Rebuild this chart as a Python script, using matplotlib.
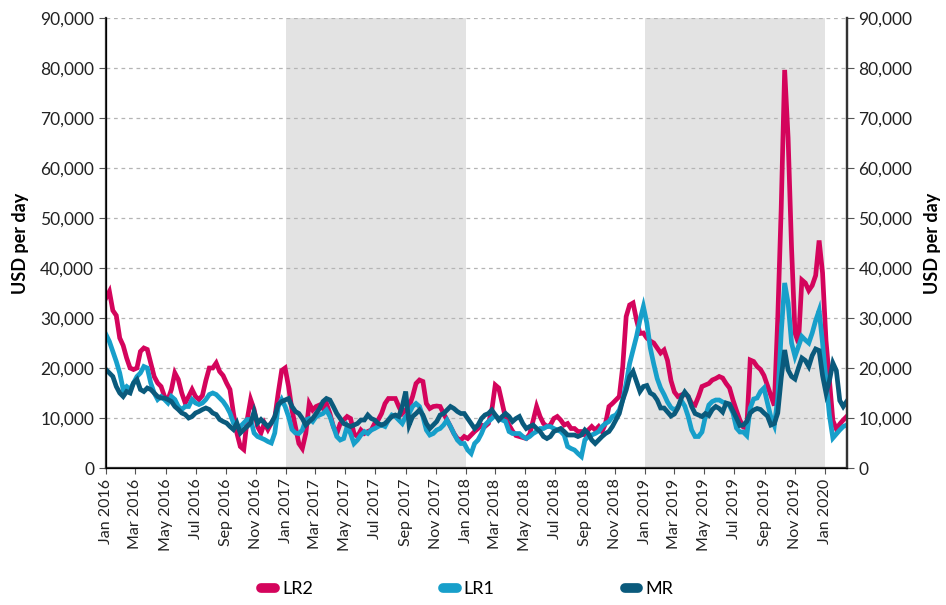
import matplotlib
matplotlib.use("Agg")
import matplotlib.pyplot as plt
import matplotlib.dates as mdates
from matplotlib.lines import Line2D
from matplotlib.ticker import FuncFormatter
import pandas as pd
import numpy as np

plt.rcParams['font.family'] = ['Lato', 'DejaVu Sans']

# weekly rates, thousand USD per day (blocks: 2016, 2017, 2018, 2019, early 2020)
lr2 = [
    34.0, 35.3, 31.5, 30.5, 26.0, 24.5, 22.0, 20.0, 19.7, 20.0,
    23.3, 24.0, 23.7, 21.0, 18.3, 17.0, 16.3, 14.3, 13.7, 15.7,
    19.0, 17.7, 15.0, 13.0, 14.3, 15.7, 14.3, 13.7, 14.5, 17.5,
    20.0, 20.0, 21.0, 19.3, 18.5, 17.0, 15.7, 11.0, 7.0, 4.3,
    3.7, 9.7, 13.7, 11.7, 8.3, 7.0, 9.0, 7.7, 9.0, 10.0,
    15.0, 19.5,
    20.0, 16.3, 11.6, 8.3, 4.9, 3.9, 6.9, 12.9, 11.6, 12.3,
    12.6, 11.9, 12.9, 10.9, 8.3, 6.9, 8.9, 9.6, 10.3, 9.9,
    6.9, 6.3, 7.6, 6.9, 7.3, 7.6, 8.9, 9.6, 10.9, 12.9,
    13.9, 13.9, 13.9, 12.3, 10.9, 11.6, 12.3, 14.3, 16.9, 17.6,
    17.3, 12.9, 11.9, 12.3, 12.4, 12.3, 10.9, 9.6, 8.3, 6.9,
    5.9, 5.6,
    6.3, 5.9, 6.6, 7.3, 7.9, 8.6, 8.3, 8.9, 11.6, 16.6,
    16.0, 13.0, 9.9, 8.6, 7.4, 6.5, 6.3, 6.1, 5.9, 6.8,
    9.5, 12.3, 10.3, 8.9, 8.3, 8.6, 9.9, 10.3, 9.6, 8.6,
    8.9, 7.9, 7.9, 7.3, 7.3, 6.6, 7.6, 8.3, 7.6, 8.3,
    7.3, 8.9, 12.3, 12.9, 13.6, 14.3, 20.3, 30.3, 32.6, 33.0,
    29.6, 26.9,
    27.0, 26.0, 25.4, 25.0, 24.0, 23.0, 23.6, 21.5, 17.5, 15.2,
    14.3, 14.6, 14.9, 14.3, 12.9, 12.6, 14.3, 16.3, 16.6, 16.9,
    17.6, 17.9, 18.3, 18.0, 16.9, 16.0, 13.6, 11.5, 9.6, 8.2,
    8.0, 21.6, 21.3, 20.3, 19.7, 18.5, 16.5, 14.5, 12.5, 30.0,
    52.0, 79.6, 66.0, 44.0, 27.0, 25.0, 37.6, 37.0, 35.5, 36.5,
    38.5, 45.5,
    39.0, 25.5, 17.5, 9.5, 7.8, 8.8, 9.6, 10.3,
]

lr1 = [
    26.7, 25.3, 23.3, 21.3, 19.0, 15.7, 16.3, 15.7, 17.0, 18.3,
    19.0, 20.3, 20.0, 17.0, 15.0, 13.7, 14.3, 13.7, 13.0, 14.3,
    13.7, 12.3, 11.7, 12.3, 12.3, 13.7, 13.0, 12.7, 13.0, 13.7,
    14.7, 15.0, 14.7, 14.0, 13.3, 12.3, 11.0, 9.0, 8.3, 8.3,
    9.0, 9.7, 9.7, 7.0, 6.3, 6.0, 5.7, 5.3, 5.0, 7.0,
    12.3, 13.7,
    12.3, 10.3, 7.7, 7.0, 6.9, 7.6, 9.6, 9.9, 9.3, 10.3,
    10.6, 10.9, 11.6, 10.3, 8.3, 6.3, 5.6, 5.9, 8.3, 6.9,
    4.9, 5.6, 6.6, 7.3, 6.9, 7.6, 7.9, 8.3, 8.6, 8.3,
    9.6, 10.6, 10.3, 9.6, 8.9, 10.3, 10.9, 12.3, 12.9, 12.3,
    10.3, 7.6, 6.6, 6.9, 7.6, 7.9, 8.6, 9.6, 8.3, 6.9,
    5.6, 4.9,
    4.9, 3.6, 2.9, 4.9, 5.6, 6.9, 8.6, 9.3, 9.9, 10.6,
    9.9, 9.6, 9.3, 7.3, 6.9, 6.9, 6.9, 6.3, 5.9, 6.3,
    6.9, 7.3, 7.9, 7.9, 8.3, 8.3, 7.9, 7.6, 7.3, 6.6,
    4.3, 3.9, 3.6, 2.9, 2.3, 5.6, 6.3, 6.6, 6.9, 7.3,
    8.3, 8.9, 9.3, 10.3, 10.6, 11.6, 13.6, 16.9, 20.9, 23.6,
    26.3, 29.6,
    32.3, 29.0, 24.0, 20.8, 17.9, 16.0, 14.7, 13.2, 12.1, 11.6,
    12.2, 13.5, 12.4, 10.3, 7.6, 6.3, 6.3, 7.2, 10.3, 12.6,
    13.3, 13.6, 13.6, 13.2, 12.9, 12.5, 11.0, 8.0, 7.2, 7.2,
    6.5, 12.0, 13.8, 14.0, 15.3, 16.0, 13.0, 10.2, 8.5, 14.0,
    27.0, 37.0, 33.0, 25.0, 22.3, 24.3, 26.3, 25.6, 25.0, 27.0,
    29.5, 31.5,
    25.0, 17.5, 10.5, 6.0, 6.8, 7.6, 8.3, 8.6,
]

mr = [
    19.7, 19.0, 18.3, 16.3, 15.0, 14.3, 15.3, 15.0, 17.0, 17.7,
    15.7, 15.3, 16.0, 15.7, 15.0, 14.3, 14.0, 14.0, 13.7, 13.3,
    12.3, 11.7, 11.0, 10.7, 10.0, 10.3, 11.0, 11.3, 11.7, 12.0,
    11.7, 11.0, 10.7, 9.7, 9.3, 9.0, 8.3, 7.7, 9.0, 7.0,
    7.7, 8.3, 9.0, 11.3, 9.0, 9.7, 9.0, 8.3, 9.0, 10.3,
    12.7, 13.3,
    13.6, 13.9, 12.3, 11.3, 10.9, 9.9, 8.6, 9.3, 9.9, 10.9,
    11.9, 13.3, 13.9, 13.6, 12.3, 10.9, 9.9, 8.9, 8.6, 8.3,
    8.6, 8.9, 9.6, 9.6, 10.6, 9.9, 9.6, 8.9, 8.6, 8.9,
    9.6, 10.3, 10.6, 10.3, 12.3, 15.3, 8.6, 10.3, 10.9, 11.6,
    10.6, 8.9, 7.9, 8.6, 9.3, 10.6, 10.9, 11.6, 12.3, 11.9,
    11.3, 10.9,
    10.9, 9.9, 8.9, 7.9, 8.6, 9.9, 10.6, 10.9, 11.6, 10.6,
    9.6, 10.3, 10.9, 10.3, 9.3, 9.9, 10.3, 8.9, 7.9, 8.3,
    8.6, 7.9, 7.3, 6.3, 5.9, 6.3, 7.3, 7.6, 7.9, 7.3,
    6.6, 6.6, 6.6, 6.3, 6.6, 7.6, 6.9, 5.6, 4.9, 5.6,
    6.3, 6.9, 7.3, 8.3, 9.6, 10.9, 13.6, 15.6, 18.3, 19.3,
    17.3, 15.3,
    16.3, 16.5, 15.0, 14.6, 13.6, 12.0, 12.0, 11.2, 10.4, 10.8,
    12.0, 14.0, 15.2, 14.3, 12.3, 10.9, 10.6, 10.3, 10.9, 10.5,
    11.7, 12.3, 11.9, 11.2, 13.0, 12.8, 11.4, 10.0, 8.5, 8.6,
    9.3, 11.0, 11.6, 11.9, 11.7, 11.0, 10.4, 8.6, 8.9, 11.0,
    18.0, 23.6, 19.6, 18.3, 17.8, 20.0, 22.0, 21.5, 20.3, 22.5,
    23.8, 23.5,
    18.5, 15.0, 17.5, 21.0, 19.5, 13.5, 12.3, 13.3,
]

shaded_years = [("2017-01-01", "2018-01-01"), ("2019-01-01", "2020-01-01")]

dates = pd.date_range("2016-01-01", periods=len(lr2), freq="7D")
series = [("LR2", lr2, "#d4045c"), ("LR1", lr1, "#179fca"), ("MR", mr, "#0a5a7c")]

fig = plt.figure(figsize=(9.46, 6.05), dpi=100)
ax = fig.add_axes([0.112, 0.2264, 0.783, 0.744])

for start, end in shaded_years:
    ax.axvspan(pd.Timestamp(start), pd.Timestamp(end), color="#e3e3e3", zorder=0, lw=0)

for name, vals, col in series:
    ax.plot(dates, np.array(vals) * 1000, color=col, lw=3.4, label=name,
            solid_joinstyle="miter", zorder=3)

ax.set_ylim(0, 90000)
ax.set_xlim(dates[0], dates[-1])
ax.set_yticks(range(0, 90001, 10000))
fmt = FuncFormatter(lambda v, p: f"{v:,.0f}")
ax.yaxis.set_major_formatter(fmt)
ax.grid(axis="y", color="#b5b5b5", lw=0.9, linestyle=(0, (3, 3)), zorder=1)
ax.set_axisbelow(True)

ax.xaxis.set_major_locator(mdates.MonthLocator(bymonth=[1, 3, 5, 7, 9, 11]))
ax.xaxis.set_major_formatter(mdates.DateFormatter("%b %Y"))
plt.setp(ax.get_xticklabels(), rotation=90, fontsize=11.5, color="#222222")
ax.tick_params(axis="x", length=4, width=0.8, color="#555555")
ax.tick_params(axis="y", labelsize=12.5, length=5, width=0.8, color="#555555",
               labelcolor="#222222")

ax.spines["top"].set_visible(False)
for s in ["left", "right", "bottom"]:
    ax.spines[s].set_color("#333333")
    ax.spines[s].set_linewidth(1.6)

ax2 = ax.twinx()
ax2.set_ylim(0, 90000)
ax2.set_yticks(range(0, 90001, 10000))
ax2.yaxis.set_major_formatter(fmt)
ax2.tick_params(axis="y", labelsize=12.5, length=5, width=0.8, color="#555555",
                labelcolor="#222222")
ax2.spines["top"].set_visible(False)
ax2.spines["right"].set_color("#333333")
ax2.spines["right"].set_linewidth(1.6)

ax.set_ylabel("USD per day", fontsize=13, fontweight="bold", labelpad=8)
ax2.set_ylabel("USD per day", fontsize=13, fontweight="bold", labelpad=8)

handles = [Line2D([0], [0], color=c, lw=7, solid_capstyle="round") for _, _, c in series]
fig.legend(handles, [n for n, _, _ in series], loc="center", ncol=3,
           bbox_to_anchor=(0.494, 0.026), frameon=False, fontsize=13,
           handlelength=0.75, handletextpad=0.4, columnspacing=7.2)

fig.savefig("out.png", dpi=100)
